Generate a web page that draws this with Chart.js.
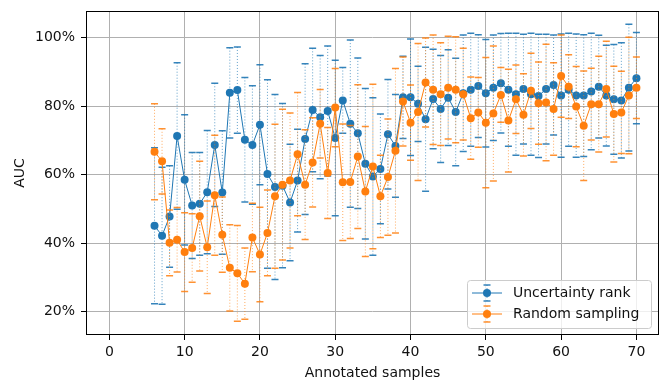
<!DOCTYPE html>
<html>
<head>
<meta charset="utf-8">
<script src="https://cdn.jsdelivr.net/npm/chart.js@4.4.1/dist/chart.umd.min.js"></script>
<style>
  html, body { margin: 0; padding: 0; background: #fff; }
  #wrap { width: 665px; height: 380px; }
</style>
</head>
<body>
<div id="wrap"><canvas id="aucChart" width="665" height="380"></canvas></div>
<script>
// annotated sample counts (x)
const samples = [6, 7, 8, 9, 10, 11, 12, 13, 14, 15, 16, 17, 18, 19, 20,
    21, 22, 23, 24, 25, 26, 27, 28, 29, 30, 31, 32, 33, 34, 35, 36, 37, 38,
    39, 40, 41, 42, 43, 44, 45, 46, 47, 48, 49, 50, 51, 52, 53, 54, 55, 56,
    57, 58, 59, 60, 61, 62, 63, 64, 65, 66, 67, 68, 69, 70];

// mean AUC (%) per sample count
const uncertaintyAuc = [45.1, 42.2, 47.8, 71.3, 58.5, 51.0, 51.5, 54.9, 68.7, 54.8,
    83.9, 84.7, 70.2, 68.7, 74.6, 60.2, 56.4, 56.8, 51.9, 58.3, 70.4, 78.9, 76.8,
    78.6, 70.7, 81.7, 74.9, 72.1, 63.2, 59.5, 61.7, 71.8, 68.4, 82.6, 82.6, 80.7,
    76.2, 82.1, 79.2, 82.5, 78.3, 83.8, 84.8, 85.9, 83.8, 85.4, 86.7, 84.8, 83.5,
    85.0, 83.5, 83.0, 85.0, 86.2, 83.1, 84.8, 83.1, 83.1, 84.3, 85.7, 83.1, 82.0,
    81.7, 85.4, 88.2];
const randomAuc = [66.7, 63.9, 40.1, 41.0, 37.4, 38.6, 47.9, 38.8, 54.0, 42.5,
    32.8, 31.2, 28.2, 41.7, 36.7, 43.0, 53.7, 57.1, 58.3, 66.0, 57.1, 63.6, 74.9,
    60.5, 79.6, 57.8, 57.9, 65.3, 55.1, 62.4, 53.7, 59.3, 67.0, 81.4, 75.2, 78.3,
    86.9, 84.8, 83.5, 85.4, 84.8, 83.5, 76.5, 78.2, 75.2, 77.9, 83.3, 75.8, 82.0,
    77.5, 84.5, 80.9, 81.1, 79.2, 88.8, 85.7, 79.9, 74.3, 80.6, 80.6, 85.0, 77.7,
    78.2, 83.1, 85.4];

// symmetric error (+/- %)
const uncertaintyErr = [22.8, 20, 14.8, 21.4, 19, 15.5, 15, 18, 18, 18,
    13.2, 12.6, 18.2, 17.3, 17.5, 27.5, 27, 24, 17, 15, 22, 18, 18,
    19, 22.7, 9.6, 24.4, 22, 22, 23, 16, 16, 15, 12, 17, 11,
    21, 14.5, 15.6, 14, 15.7, 17, 16.5, 15, 15.7, 15.4, 14.5, 16.5, 17.8,
    16, 17.8, 18, 16, 14.6, 18, 16.5, 18, 17.8, 17, 15, 14.7, 16,
    16.8, 18.5, 13.3];
const randomErr = [14, 9.5, 9.6, 9.4, 11.5, 10, 16, 13.5, 17.5, 11,
    12.6, 14, 10.4, 10, 13.8, 12.5, 21, 22, 19.7, 18, 16, 13, 10,
    13.3, 11.4, 17, 16.5, 21, 19, 24, 12, 17, 24, 13, 11, 20,
    13, 16, 15, 15, 15.5, 13.4, 12, 10.2, 19, 19.7, 8, 15, 10,
    12, 11, 12, 17, 13.5, 12, 9.3, 11.7, 16, 10.5, 14, 14, 14,
    12, 17, 9];

const xTicks = [0, 10, 20, 30, 40, 50, 60, 70];
const yTicks = [20, 40, 60, 80, 100];
const seriesNames = ['Uncertainty rank', 'Random sampling'];

const BLUE = '#1f77b4';
const ORANGE = '#ff7f0e';

Chart.defaults.font.family = '"DejaVu Sans", sans-serif';
Chart.defaults.font.size = 14;
Chart.defaults.color = '#111';

function toPoints(vals) {
    return samples.map((s, i) => ({ x: s, y: vals[i] }));
}

// draws dotted error bars with caps, just before each dataset
const errorBars = {
    id: 'errorBars',
    beforeDatasetDraw(chart, args) {
        const ds = chart.data.datasets[args.index];
        const { ctx, scales: { x, y } } = chart;
        ctx.save();
        samples.forEach((s, i) => {
            const px = x.getPixelForValue(s);
            const top = y.getPixelForValue(ds.data[i].y + ds.errors[i]);
            const bot = y.getPixelForValue(ds.data[i].y - ds.errors[i]);
            ctx.strokeStyle = ds.errColor;
            ctx.lineWidth = 1;
            ctx.setLineDash([1, 2]);
            ctx.beginPath();
            ctx.moveTo(px, top);
            ctx.lineTo(px, bot);
            ctx.stroke();
            ctx.setLineDash([]);
            ctx.strokeStyle = ds.capColor;
            ctx.lineWidth = 1.5;
            ctx.beginPath();
            ctx.moveTo(px - 3.5, top);
            ctx.lineTo(px + 3.5, top);
            ctx.moveTo(px - 3.5, bot);
            ctx.lineTo(px + 3.5, bot);
            ctx.stroke();
        });
        ctx.restore();
    }
};

// box spines and matplotlib-like legend in the lower right
const frameAndLegend = {
    id: 'frameAndLegend',
    afterDraw(chart) {
        const { ctx, chartArea: a } = chart;
        ctx.save();
        ctx.strokeStyle = '#000';
        ctx.lineWidth = 1;
        ctx.strokeRect(Math.round(a.left) + 0.5, Math.round(a.top) + 0.5,
            Math.round(a.right - a.left) - 1, Math.round(a.bottom - a.top) - 1);

        const bx = 467, by = 280, bw = 184, bh = 48;
        ctx.beginPath();
        ctx.roundRect(bx + 0.5, by + 0.5, bw, bh, 3);
        ctx.fillStyle = 'rgba(255,255,255,0.8)';
        ctx.fill();
        ctx.strokeStyle = '#cccccc';
        ctx.stroke();

        chart.data.datasets.forEach((ds, i) => {
            const cy = 293 + i * 21;
            ctx.strokeStyle = ds.borderColor;
            ctx.lineWidth = 1;
            ctx.beginPath();
            ctx.moveTo(472, cy);
            ctx.lineTo(502, cy);
            ctx.stroke();
            ctx.strokeStyle = ds.errColor;
            ctx.setLineDash([1, 2]);
            ctx.beginPath();
            ctx.moveTo(487, cy - 8);
            ctx.lineTo(487, cy + 8);
            ctx.stroke();
            ctx.setLineDash([]);
            ctx.strokeStyle = ds.capColor;
            ctx.lineWidth = 1.5;
            ctx.beginPath();
            ctx.moveTo(483.5, cy - 8);
            ctx.lineTo(490.5, cy - 8);
            ctx.moveTo(483.5, cy + 8);
            ctx.lineTo(490.5, cy + 8);
            ctx.stroke();
            ctx.fillStyle = ds.borderColor;
            ctx.beginPath();
            ctx.arc(487, cy, 4, 0, Math.PI * 2);
            ctx.fill();
            ctx.fillStyle = '#111';
            ctx.font = '14px "DejaVu Sans", sans-serif';
            ctx.textAlign = 'left';
            ctx.textBaseline = 'middle';
            ctx.fillText(ds.label, 513, cy);
        });
        ctx.restore();
    }
};

const ctx = document.getElementById('aucChart');

new Chart(ctx, {
    type: 'line',
    data: {
        datasets: [{
            label: seriesNames[0],
            data: toPoints(uncertaintyAuc),
            errors: uncertaintyErr,
            borderColor: BLUE,
            backgroundColor: BLUE,
            errColor: 'rgba(31,119,180,0.7)',
            capColor: 'rgba(31,119,180,0.9)',
            borderWidth: 1,
            pointRadius: 4,
            pointBorderWidth: 0,
            pointBackgroundColor: BLUE,
            order: 2
        }, {
            label: seriesNames[1],
            data: toPoints(randomAuc),
            errors: randomErr,
            borderColor: ORANGE,
            backgroundColor: ORANGE,
            errColor: 'rgba(255,127,14,0.65)',
            capColor: 'rgba(255,127,14,0.85)',
            borderWidth: 1,
            pointRadius: 4,
            pointBorderWidth: 0,
            pointBackgroundColor: ORANGE,
            order: 1
        }]
    },
    options: {
        responsive: false,
        animation: false,
        layout: { padding: { top: 11, right: 6, left: 0, bottom: 0 } },
        plugins: {
            legend: { display: false },
            tooltip: { enabled: false }
        },
        scales: {
            x: {
                type: 'linear',
                min: -3.1,
                max: 73,
                afterBuildTicks: s => { s.ticks = xTicks.map(v => ({ value: v })); },
                afterFit: s => { s.height = 45; s.paddingLeft = 0; s.paddingRight = 0; },
                grid: { color: '#b0b0b0', lineWidth: 1, tickLength: 5, tickColor: '#000' },
                border: { display: false },
                ticks: { padding: 4, maxRotation: 0 },
                title: {
                    display: true, text: 'Annotated samples',
                    font: { lineHeight: 1.0 }, padding: { top: 0, bottom: 0 }
                }
            },
            y: {
                min: 13.2,
                max: 107.8,
                afterBuildTicks: s => { s.ticks = yTicks.map(v => ({ value: v })); },
                afterFit: s => { s.width = 86; s.paddingTop = 0; s.paddingBottom = 0; },
                grid: { color: '#b0b0b0', lineWidth: 1, tickLength: 5, tickColor: '#000' },
                border: { display: false },
                ticks: { padding: 6, callback: v => v + '%' },
                title: { display: true, text: 'AUC', padding: { top: 12, bottom: 0 } }
            }
        }
    },
    plugins: [errorBars, frameAndLegend]
});
</script>
</body>
</html>
